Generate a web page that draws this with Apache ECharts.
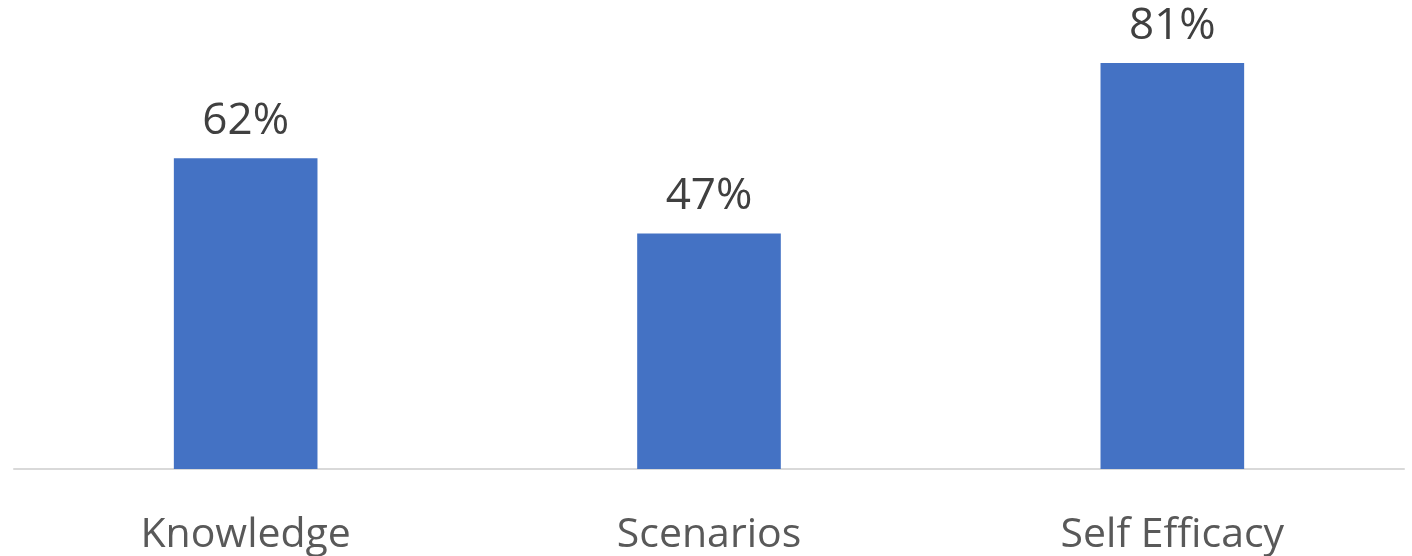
<!DOCTYPE html>
<html>
<head>
<meta charset="utf-8">
<script src="https://cdn.jsdelivr.net/npm/echarts@6/dist/echarts.min.js"></script>
<style>
  html, body { margin: 0; padding: 0; background: #ffffff; }
  #chart { width: 1412px; height: 556px; }
</style>
</head>
<body>
<div id="chart"></div>
<script>
// Share of participants per topic (percent)
const categories = ['Knowledge', 'Scenarios', 'Self Efficacy'];
const percentValues = [62, 47, 81];

const chart = echarts.init(document.getElementById('chart'), null, { renderer: 'canvas' });

chart.setOption({
  animation: false,
  backgroundColor: '#ffffff',
  grid: { left: 14, right: 8, top: 18, bottom: 84, containLabel: false },
  xAxis: {
    type: 'category',
    data: categories,
    axisLine: { show: true, lineStyle: { color: '#d9d9d9', width: 2 } },
    axisTick: { show: false },
    axisLabel: {
      color: '#595959',
      fontFamily: 'Open Sans',
      fontSize: 41,
      margin: 46
    }
  },
  yAxis: {
    type: 'value',
    min: 0,
    max: 90,
    show: false,
    splitLine: { show: false }
  },
  series: [{
    type: 'bar',
    data: percentValues,
    barWidth: '31%',
    itemStyle: { color: '#4472c4' },
    label: {
      show: true,
      position: 'top',
      distance: 15,
      color: '#404040',
      fontFamily: 'Open Sans',
      fontSize: 44,
      formatter: p => p.value + '%'
    }
  }]
});
</script>
</body>
</html>
